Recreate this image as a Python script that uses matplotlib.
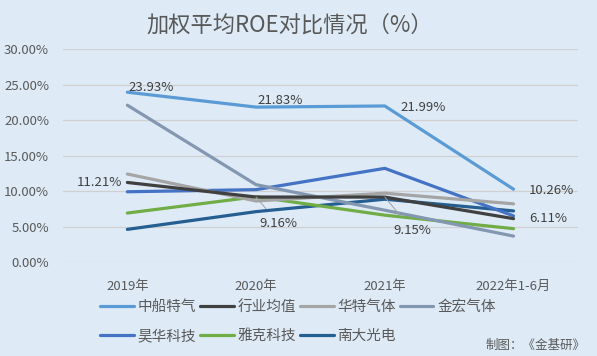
import matplotlib
matplotlib.use("Agg")
import matplotlib.pyplot as plt

plt.rcParams["font.family"] = ["Noto Sans CJK SC", "DejaVu Sans"]

years = ["2019年", "2020年", "2021年", "2022年1-6月"]
names = ["中船特气", "行业均值", "华特气体", "金宏气体", "昊华科技", "雅克科技", "南大光电"]
zcq = [23.93, 21.83, 21.99, 10.26]
avg = [11.21, 9.16, 9.15, 6.11]
htqt = [12.4, 8.6, 9.7, 8.2]
jhqt = [22.1, 10.9, 7.3, 3.65]
hhkj = [9.9, 10.2, 13.2, 6.5]
ykkj = [6.9, 9.2, 6.6, 4.7]
ndgd = [4.6, 7.1, 8.85, 7.2]
colors = ["#5B9BD5", "#404040", "#A5A5A5", "#8497B0", "#4472C4", "#70AD47", "#255E91"]

series = [zcq, avg, htqt, jhqt, hhkj, ykkj, ndgd]
bg = "#DEEBF7"
txt = "#595959"

fig = plt.figure(figsize=(5.97, 3.56), dpi=100, facecolor=bg)
ax = fig.add_axes([0.1055, 0.264, 0.8625, 0.598], facecolor=bg)

x = list(range(len(years)))
# draw in reverse so 中船特气 is on top
handles = {}
for name, vals, c in reversed(list(zip(names, series, colors))):
    h, = ax.plot(x, vals, color=c, lw=2.3, label=name, solid_capstyle="round", solid_joinstyle="round")
    handles[name] = h

ax.set_xlim(-0.5, 3.5)
ax.set_ylim(0, 30)
ax.set_yticks([0, 5, 10, 15, 20, 25, 30])
ax.set_yticklabels([f"{v:.2f}%" for v in [0, 5, 10, 15, 20, 25, 30]])
ax.set_xticks(x)
ax.set_xticklabels(years)
ax.tick_params(axis="both", length=0, labelsize=9.5, colors=txt)
ax.tick_params(axis="x", pad=13)
ax.tick_params(axis="y", pad=10)
ax.grid(axis="y", color="#D0D0D0", lw=0.9)
ax.set_axisbelow(True)
for s in ax.spines.values():
    s.set_visible(False)

lab_kw = dict(fontsize=9.5, color="#404040")
ax.annotate(f"{zcq[0]:.2f}%", (0, zcq[0]), xytext=(1, -1), textcoords="offset points", ha="left", va="bottom", **lab_kw)
ax.annotate(f"{zcq[1]:.2f}%", (1, zcq[1]), xytext=(1, 0), textcoords="offset points", ha="left", va="bottom", **lab_kw)
ax.annotate(f"{zcq[2]:.2f}%", (2, zcq[2]), xytext=(11, -1), textcoords="offset points", ha="left", va="center", **lab_kw)
ax.annotate(f"{zcq[3]:.2f}%", (3, zcq[3]), xytext=(11, -1), textcoords="offset points", ha="left", va="center", **lab_kw)
ax.annotate(f"{avg[0]:.2f}%", (0, avg[0]), xytext=(-4, 0), textcoords="offset points", ha="right", va="center", **lab_kw)
ax.annotate(f"{avg[1]:.2f}%", (1, avg[1]), xytext=(16, -19), textcoords="offset points", ha="center", va="center",
            arrowprops=dict(arrowstyle="-", color="#A0A0A0", lw=0.7, shrinkA=5, shrinkB=0), **lab_kw)
ax.annotate(f"{avg[2]:.2f}%", (2, avg[2]), xytext=(20, -24), textcoords="offset points", ha="center", va="center",
            arrowprops=dict(arrowstyle="-", color="#A0A0A0", lw=0.7, shrinkA=5, shrinkB=0), **lab_kw)
ax.annotate(f"{avg[3]:.2f}%", (3, avg[3]), xytext=(11, 0), textcoords="offset points", ha="left", va="center", **lab_kw)

fig.text(0.486, 0.93, "加权平均ROE对比情况（%）", ha="center", va="center", fontsize=16, color=txt)

# legend filled column-first, so reorder to read row by row
leg_order = [0, 4, 1, 5, 2, 6, 3]
fig.legend([handles[names[i]] for i in leg_order], [names[i] for i in leg_order], ncol=4,
           loc="upper left", bbox_to_anchor=(0.158, 0.174), frameon=False,
           fontsize=10.5, labelcolor=txt, handlelength=2.3, handletextpad=0.27,
           columnspacing=0.27, borderaxespad=0, labelspacing=1.05)

fig.text(0.98, 0.03, "制图：《金基研》", ha="right", va="center", fontsize=9, color=txt)

fig.savefig("out.png", dpi=100, facecolor=bg)
